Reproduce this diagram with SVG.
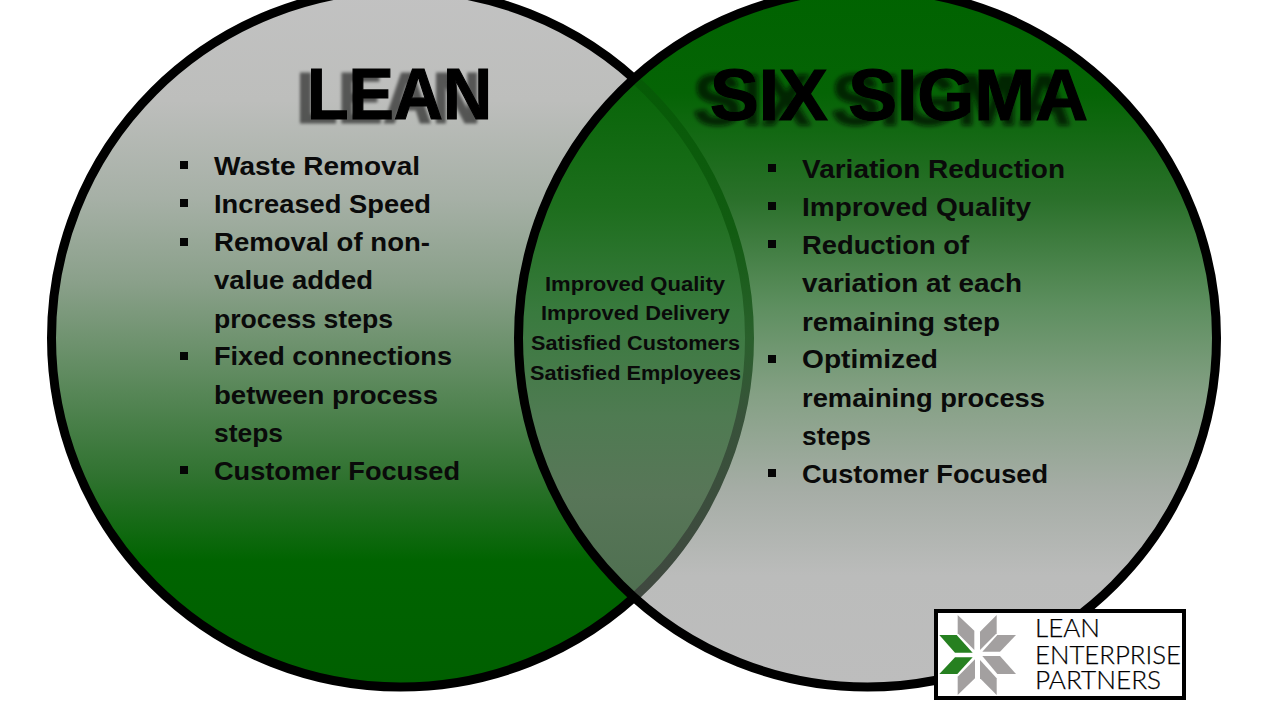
<svg xmlns="http://www.w3.org/2000/svg" width="1280" height="720" viewBox="0 0 1280 720">
  <style>
    .ring{stroke:#000;stroke-width:9}
    .title{font-family:"Liberation Sans",Arial,sans-serif;font-weight:700;font-size:72px;fill:#000;stroke:#000;stroke-width:1.2}
    .item{font-family:"Liberation Sans",Arial,sans-serif;font-weight:700;font-size:26px;fill:#0a0a0a}
    .mid{font-family:"Liberation Sans",Arial,sans-serif;font-weight:700;font-size:20px;fill:#0a0a0a}
    .bullet{fill:#050505}
    .gray{fill:#a3a0a0}
    .green{fill:#268020}
    .logo{font-family:Lato,"Open Sans",sans-serif;font-weight:300;font-size:25px;fill:#000;stroke:#000;stroke-width:0.25}
  </style>
  <defs>
    <linearGradient id="gl" gradientUnits="userSpaceOnUse" x1="0" y1="-11" x2="0" y2="687">
      <stop offset="0" stop-color="#c2c2c2"/>
      <stop offset="0.16" stop-color="#bdbebc"/>
      <stop offset="0.3" stop-color="#a6b0a6"/>
      <stop offset="0.42" stop-color="#8aa08a"/>
      <stop offset="0.55" stop-color="#608b60"/>
      <stop offset="0.7" stop-color="#2f722f"/>
      <stop offset="0.82" stop-color="#006400"/>
      <stop offset="1" stop-color="#005f00"/>
    </linearGradient>
    <linearGradient id="gr" gradientUnits="userSpaceOnUse" x1="0" y1="-11" x2="0" y2="687">
      <stop offset="0" stop-color="#006300"/>
      <stop offset="0.15" stop-color="#056405"/>
      <stop offset="0.3" stop-color="#2a702a"/>
      <stop offset="0.45" stop-color="#5c8e5e"/>
      <stop offset="0.58" stop-color="#84a084"/>
      <stop offset="0.72" stop-color="#a6ada6"/>
      <stop offset="0.84" stop-color="#bbbcbb"/>
      <stop offset="1" stop-color="#bdbdbd"/>
    </linearGradient>
    <linearGradient id="gm" gradientUnits="userSpaceOnUse" x1="0" y1="75" x2="0" y2="600">
      <stop offset="0" stop-color="#066406"/>
      <stop offset="0.25" stop-color="#1d6e1d"/>
      <stop offset="0.45" stop-color="#397a3e"/>
      <stop offset="0.65" stop-color="#4f7b52"/>
      <stop offset="0.8" stop-color="#587658"/>
      <stop offset="1" stop-color="#4e6f50"/>
    </linearGradient>
    <linearGradient id="ga" gradientUnits="userSpaceOnUse" x1="0" y1="75" x2="0" y2="600">
      <stop offset="0" stop-color="#055a05"/>
      <stop offset="0.3" stop-color="#125c12"/>
      <stop offset="0.5" stop-color="#2a602c"/>
      <stop offset="0.65" stop-color="#38523a"/>
      <stop offset="1" stop-color="#404840"/>
    </linearGradient>
    <clipPath id="inLeft"><circle cx="400.5" cy="338" r="349"/></clipPath>
    <clipPath id="inRight"><circle cx="867.5" cy="338" r="349"/></clipPath>
    <filter id="shadowLean" x="-15%" y="-20%" width="130%" height="150%">
      <feDropShadow dx="-11" dy="4" stdDeviation="1.8" flood-color="#000" flood-opacity="0.55"/>
    </filter>
    <filter id="shadowSigma" x="-15%" y="-20%" width="130%" height="150%">
      <feDropShadow dx="-17" dy="5" stdDeviation="2.2" flood-color="#001800" flood-opacity="0.75"/>
    </filter>
  </defs>
  <rect width="1280" height="720" fill="#fff"/>

  <g id="connectors"></g>

  <g id="lean-circle">
    <circle class="ring" cx="400.5" cy="338" r="349" fill="url(#gl)"/>
  </g>
  <g id="sigma-circle">
    <circle cx="867.5" cy="338" r="349" fill="url(#gr)"/>
    <g clip-path="url(#inRight)">
      <g clip-path="url(#inLeft)"><rect x="500" y="60" width="270" height="560" fill="url(#gm)"/></g>
      <circle cx="400.5" cy="338" r="349" fill="none" stroke="url(#ga)" stroke-width="9"/>
    </g>
    <circle cx="867.5" cy="338" r="349" fill="none" class="ring"/>
  </g>

  <g id="lean">
    <text class="title" x="307" y="119" textLength="185" lengthAdjust="spacingAndGlyphs" filter="url(#shadowLean)">LEAN</text>
    <g class="bullet">
      <rect x="180" y="161" width="8" height="8"/><rect x="180" y="199" width="8" height="8"/><rect x="180" y="238" width="8" height="8"/><rect x="180" y="352" width="8" height="8"/><rect x="180" y="466" width="8" height="8"/>
    </g>
    <text class="item" x="214" y="175" textLength="206" lengthAdjust="spacingAndGlyphs">Waste Removal</text>
    <text class="item" x="214" y="213" textLength="217" lengthAdjust="spacingAndGlyphs">Increased Speed</text>
    <text class="item" x="214" y="251" textLength="216" lengthAdjust="spacingAndGlyphs">Removal of non-</text>
    <text class="item" x="214" y="289" textLength="159" lengthAdjust="spacingAndGlyphs">value added</text>
    <text class="item" x="214" y="328" textLength="179" lengthAdjust="spacingAndGlyphs">process steps</text>
    <text class="item" x="214" y="365" textLength="238" lengthAdjust="spacingAndGlyphs">Fixed connections</text>
    <text class="item" x="214" y="404" textLength="224" lengthAdjust="spacingAndGlyphs">between process</text>
    <text class="item" x="214" y="442" textLength="69" lengthAdjust="spacingAndGlyphs">steps</text>
    <text class="item" x="214" y="480" textLength="246" lengthAdjust="spacingAndGlyphs">Customer Focused</text>
  </g>

  <g id="six-sigma">
    <text class="title" x="710" y="120" textLength="378" lengthAdjust="spacingAndGlyphs" filter="url(#shadowSigma)">SIX SIGMA</text>
    <g class="bullet">
      <rect x="768" y="164" width="8" height="8"/><rect x="768" y="202" width="8" height="8"/><rect x="768" y="240" width="8" height="8"/><rect x="768" y="355" width="8" height="8"/><rect x="768" y="469" width="8" height="8"/>
    </g>
    <text class="item" x="802" y="178" textLength="263" lengthAdjust="spacingAndGlyphs">Variation Reduction</text>
    <text class="item" x="802" y="216" textLength="229" lengthAdjust="spacingAndGlyphs">Improved Quality</text>
    <text class="item" x="802" y="254" textLength="167" lengthAdjust="spacingAndGlyphs">Reduction of</text>
    <text class="item" x="802" y="292" textLength="220" lengthAdjust="spacingAndGlyphs">variation at each</text>
    <text class="item" x="802" y="331" textLength="198" lengthAdjust="spacingAndGlyphs">remaining step</text>
    <text class="item" x="802" y="368" textLength="136" lengthAdjust="spacingAndGlyphs">Optimized</text>
    <text class="item" x="802" y="407" textLength="243" lengthAdjust="spacingAndGlyphs">remaining process</text>
    <text class="item" x="802" y="445" textLength="69" lengthAdjust="spacingAndGlyphs">steps</text>
    <text class="item" x="802" y="483" textLength="246" lengthAdjust="spacingAndGlyphs">Customer Focused</text>
  </g>

  <g id="overlap">
    <text class="mid" x="545" y="291" textLength="180" lengthAdjust="spacingAndGlyphs">Improved Quality</text>
    <text class="mid" x="541" y="320" textLength="189" lengthAdjust="spacingAndGlyphs">Improved Delivery</text>
    <text class="mid" x="531" y="350" textLength="209" lengthAdjust="spacingAndGlyphs">Satisfied Customers</text>
    <text class="mid" x="530" y="380" textLength="211" lengthAdjust="spacingAndGlyphs">Satisfied Employees</text>
  </g>

  <g id="logo">
    <rect x="936" y="611" width="248" height="87" fill="#fff" stroke="#000" stroke-width="4"/>
    <g transform="translate(920 600) scale(0.3333)">
      <polygon class="gray" points="113,45 163,92 163,150 113,100"/>
      <polygon class="gray" points="230,45 230,100 180,150 180,95"/>
      <polygon class="gray" points="288,105 232,105 187,155 240,155"/>
      <polygon class="gray" points="187,168 240,168 288,222 232,222"/>
      <polygon class="gray" points="180,180 230,235 230,285 180,235"/>
      <polygon class="gray" points="165,178 165,235 113,285 113,230"/>
      <polygon class="green" points="158,172 105,172 58,222 112,222"/>
      <polygon class="green" points="58,105 110,105 158,158 105,158"/>
    </g>
    <text class="logo" x="1035" y="637" textLength="65" lengthAdjust="spacingAndGlyphs">LEAN</text>
    <text class="logo" x="1035" y="664" textLength="146" lengthAdjust="spacingAndGlyphs">ENTERPRISE</text>
    <text class="logo" x="1035" y="689" textLength="126" lengthAdjust="spacingAndGlyphs">PARTNERS</text>
  </g>
</svg>
